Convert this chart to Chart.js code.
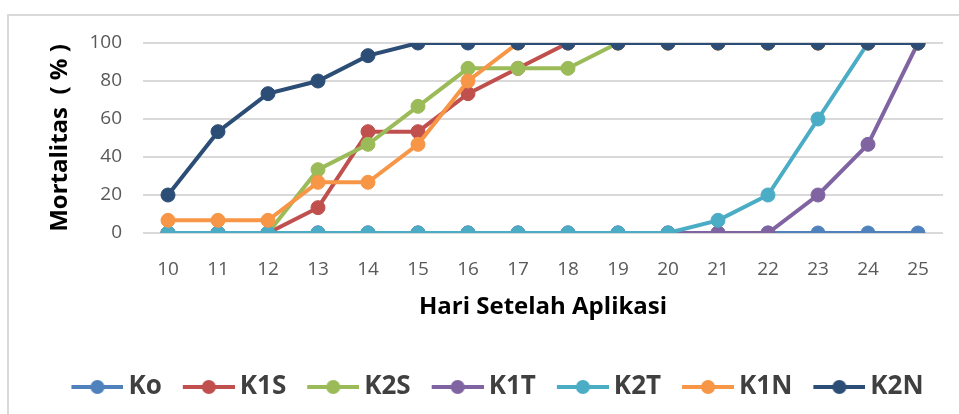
<!DOCTYPE html>
<html>
<head>
<meta charset="utf-8">
<script src="https://cdn.jsdelivr.net/npm/chart.js@4.4.1/dist/chart.umd.min.js"></script>
<style>
  html, body { margin: 0; padding: 0; background: #fff; overflow: hidden; }
  #wrap { position: relative; width: 959px; height: 414px; }
  #frame { position: absolute; left: 7px; top: 14px; width: 1000px; height: 500px; border: 2px solid #d9d9d9; }
  canvas { position: absolute; left: 0; top: 0; }
</style>
</head>
<body>
<div id="wrap">
  <div id="frame"></div>
  <canvas id="mortalityChart" width="959" height="414"></canvas>
</div>
<script>
// days after application (x categories)
const days = ["10", "11", "12", "13", "14", "15", "16", "17", "18", "19", "20", "21", "22", "23", "24", "25"];

// mortality (%) per treatment
const ko  = [0, 0, 0, 0, 0, 0, 0, 0, 0, 0, 0, 0, 0, 0, 0, 0];
const k1s = [0, 0, 0, 13.33, 53.33, 53.33, 73.33, 86.67, 100, 100, 100, 100, 100, 100, 100, 100];
const k2s = [0, 0, 0, 33.33, 46.67, 66.67, 86.67, 86.67, 86.67, 100, 100, 100, 100, 100, 100, 100];
const k1t = [0, 0, 0, 0, 0, 0, 0, 0, 0, 0, 0, 0, 0, 20, 46.67, 100];
const k2t = [0, 0, 0, 0, 0, 0, 0, 0, 0, 0, 0, 6.67, 20, 60, 100, 100];
const k1n = [6.67, 6.67, 6.67, 26.67, 26.67, 46.67, 80, 100, 100, 100, 100, 100, 100, 100, 100, 100];
const k2n = [20, 53.33, 73.33, 80, 93.33, 100, 100, 100, 100, 100, 100, 100, 100, 100, 100, 100];

const seriesNames = ["Ko", "K1S", "K2S", "K1T", "K2T", "K1N", "K2N"];
const seriesData = [ko, k1s, k2s, k1t, k2t, k1n, k2n];
const seriesColors = ["#4f81bd", "#c0504d", "#9bbb59", "#8064a2", "#4bacc6", "#f79646", "#2c4d75"];

const yTicks = [0, 20, 40, 60, 80, 100];

// little "line with a dot" marker for the legend, like the Excel one
function legendMarker(color) {
    const c = document.createElement("canvas");
    c.width = 60;
    c.height = 16;
    const g = c.getContext("2d");
    g.strokeStyle = color;
    g.lineWidth = 4;
    g.beginPath();
    g.moveTo(8, 8);
    g.lineTo(60, 8);
    g.stroke();
    g.fillStyle = color;
    g.beginPath();
    g.arc(34, 8, 7, 0, Math.PI * 2);
    g.fill();
    return c;
}

// nudge the legend box a bit, the original one is not centred
const legendNudge = {
    id: "legendNudge",
    afterLayout: function (chart) {
        const lg = chart.legend;
        lg.left += 22; lg.right += 22;
    }
};

const datasets = seriesNames.map(function (name, i) {
    return {
        label: name,
        data: seriesData[i],
        borderColor: seriesColors[i],
        backgroundColor: seriesColors[i],
        pointBackgroundColor: seriesColors[i],
        pointBorderColor: seriesColors[i],
        borderWidth: 4,
        pointRadius: 7,
        pointBorderWidth: 1,
        tension: 0,
        order: seriesNames.length - i   // later series drawn on top
    };
});

new Chart(document.getElementById("mortalityChart"), {
    type: "line",
    data: { labels: days, datasets: datasets },
    plugins: [legendNudge],
    options: {
        responsive: false,
        animation: false,
        layout: { padding: { left: 8, right: 16, top: 43, bottom: 4 } },
        plugins: {
            tooltip: { enabled: false },
            legend: {
                position: "bottom",
                labels: {
                    usePointStyle: true,
                    pointStyleWidth: 44,
                    padding: 21,
                    color: "#404040",
                    font: { family: "'Open Sans', sans-serif", size: 26, weight: "bold" },
                    generateLabels: function (chart) {
                        return seriesNames.map(function (name, i) {
                            return {
                                text: name,
                                fontColor: "#404040",
                                pointStyle: legendMarker(seriesColors[i]),
                                fillStyle: seriesColors[i],
                                strokeStyle: seriesColors[i],
                                lineWidth: 0,
                                hidden: false,
                                datasetIndex: i
                            };
                        });
                    }
                }
            }
        },
        scales: {
            x: {
                offset: true,
                grid: { display: false },
                border: { display: false },
                ticks: {
                    color: "#595959",
                    padding: 17,
                    font: { family: "'Open Sans', sans-serif", size: 19 },
                    maxRotation: 0
                },
                title: {
                    display: true,
                    text: "Hari Setelah Aplikasi",
                    color: "#000",
                    font: { family: "'Open Sans', sans-serif", size: 24, weight: "bold" },
                    padding: 31
                },
                afterFit: function (s) { s.height = 120; }
            },
            y: {
                min: 0,
                max: 100,
                afterBuildTicks: function (s) { s.ticks = yTicks.map(function (v) { return { value: v }; }); },
                grid: { color: "#d9d9d9", lineWidth: 2, drawTicks: false },
                border: { display: false },
                ticks: {
                    color: "#595959",
                    padding: 21,
                    font: { family: "'Open Sans', sans-serif", size: 19 }
                },
                title: {
                    display: true,
                    text: "Mortalitas  ( % )",
                    color: "#000",
                    font: { family: "'Open Sans', sans-serif", size: 24, weight: "bold" },
                    padding: 38
                },
                afterFit: function (s) { s.width = 135; }
            }
        }
    }
});
</script>
</body>
</html>
